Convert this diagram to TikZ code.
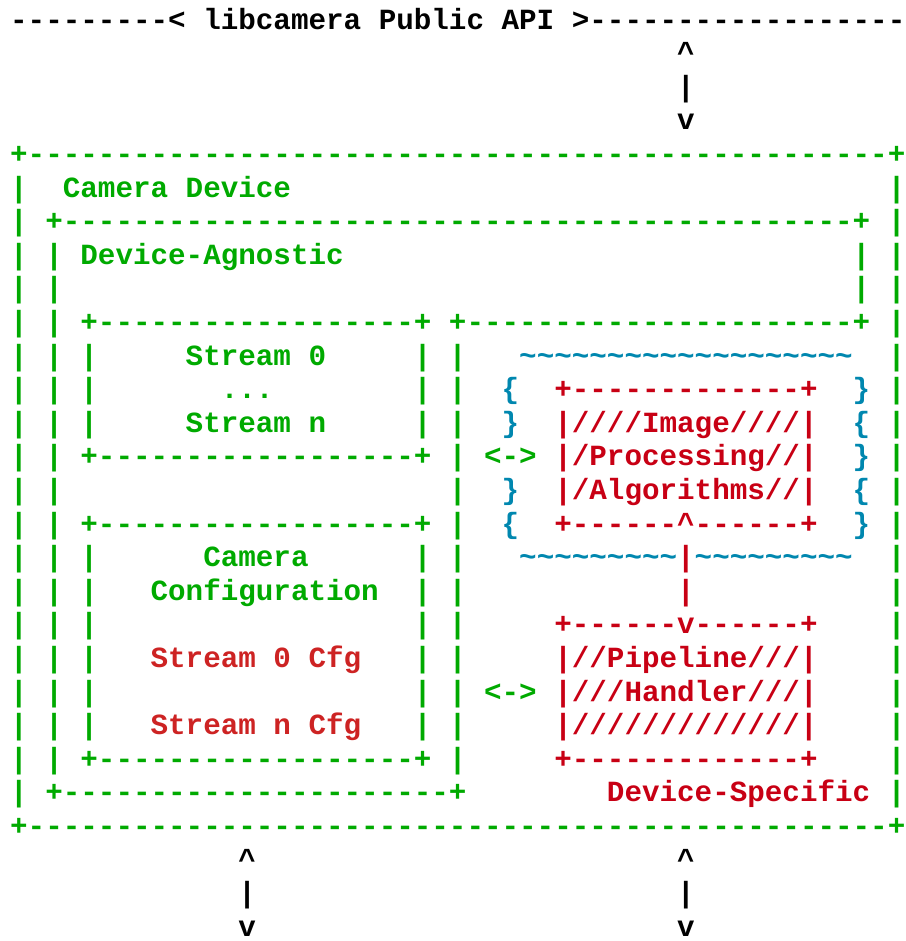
\documentclass[tikz,border=0pt]{standalone}
\usepackage{fontspec}
\setmonofont{Liberation Mono}
\definecolor{agreen}{RGB}{0,170,0}
\definecolor{ared}{RGB}{200,0,20}
\definecolor{acfg}{RGB}{205,35,35}
\definecolor{acyan}{RGB}{0,135,175}
\newcommand{\dashes}[1]{\foreach \q in {1,...,#1}{-}}
\newcommand{\tildes}[1]{\foreach \q in {1,...,#1}{\textasciitilde}}
\tikzset{
  asc/.style={anchor=base west, inner sep=0pt, outer sep=0pt,
    font=\ttfamily\bfseries\fontsize{29.25pt}{33.6pt}\selectfont},
  ktxt/.style={asc, text=black},
  gtxt/.style={asc, text=agreen},
  rtxt/.style={asc, text=ared},
  ftxt/.style={asc, text=acfg},
  ctxt/.style={asc, text=acyan}
}
\begin{document}
\begin{tikzpicture}[x=17.55pt,y=-33.6pt]
    \useasboundingbox (-0.581,-0.863) rectangle (50.99,27.14);
    % public API and arrows
    \node[ktxt] (api) at (0,0) {\dashes{9}< libcamera Public API >\dashes{18}};
    \node[ktxt] (apiup) at (38,1) {\textasciicircum};
    \node[ktxt] (apibar) at (38,2) {|};
    \node[ktxt] (apidn) at (38,3) {v};
    \foreach \c in {13,38} {
    \node[ktxt] (up\c) at (\c,25) {\textasciicircum};
    \node[ktxt] (bar\c) at (\c,26) {|};
    \node[ktxt] (dn\c) at (\c,27) {v};
    }
    % camera device
    \node[gtxt] (devtop) at (0,4) {+\dashes{49}+};
    \node[gtxt] (devbot) at (0,24) {+\dashes{49}+};
    \foreach \r in {5,...,23} {
    \node[gtxt] (devl\r) at (0,\r) {|};
    \node[gtxt] (devr\r) at (50,\r) {|};
    }
    \node[gtxt] (camdev) at (3,5) {Camera Device};
    % device-agnostic
    \node[gtxt] (agtop) at (2,6) {+\dashes{45}+};
    \node[gtxt] (agnostic) at (4,7) {Device-Agnostic};
    \foreach \r in {7,...,22} \node[gtxt] (agl\r) at (2,\r) {|};
    \foreach \r in {7,8} \node[gtxt] (agr\r) at (48,\r) {|};
    \node[gtxt] (agstep) at (25,9) {+\dashes{22}+};
    \foreach \r in {10,...,22} \node[gtxt] (agm\r) at (25,\r) {|};
    \node[gtxt] (agbot) at (2,23) {+\dashes{22}+};
    % streams and configuration
    \foreach \r in {9,13,15,22} \node[gtxt] (bx\r) at (4,\r) {+\dashes{18}+};
    \foreach \r in {10,11,12,16,17,18,19,20,21} {
    \node[gtxt] (bxl\r) at (4,\r) {|};
    \node[gtxt] (bxr\r) at (23,\r) {|};
    }
    \node[gtxt] (strzero) at (10,10) {Stream 0};
    \node[gtxt] (strdots) at (12,11) {...};
    \node[gtxt] (strn) at (10,12) {Stream n};
    \node[gtxt] (camcfg) at (11,16) {Camera};
    \node[gtxt] (config) at (8,17) {Configuration};
    \node[ftxt] (cfgzero) at (8,19) {Stream 0 Cfg};
    \node[ftxt] (cfgn) at (8,21) {Stream n Cfg};
    % device-specific
    \node[ctxt] (ipatop) at (29,10) {\tildes{19}};
    \node[ctxt] (ipabotl) at (29,16) {\tildes{9}};
    \node[ctxt] (ipabotr) at (39,16) {\tildes{9}};
    \foreach \r/\b in {11/\{,12/\},14/\},15/\{} \node[ctxt] (ipal\r) at (28,\r) {\b};
    \foreach \r/\b in {11/\},12/\{,13/\},14/\{,15/\}} \node[ctxt] (ipar\r) at (48,\r) {\b};
    \node[rtxt] (ipa1) at (31,11) {+\dashes{13}+};
    \node[rtxt] (ipa2) at (31,12) {|////Image////|};
    \node[rtxt] (ipa3) at (31,13) {|/Processing//|};
    \node[rtxt] (ipa4) at (31,14) {|/Algorithms//|};
    \node[rtxt] (ipa5) at (31,15) {+\dashes{6}\textasciicircum\dashes{6}+};
    \node[rtxt] (link1) at (38,16) {|};
    \node[rtxt] (link2) at (38,17) {|};
    \node[rtxt] (ph1) at (31,18) {+\dashes{6}v\dashes{6}+};
    \node[rtxt] (ph2) at (31,19) {|//Pipeline///|};
    \node[rtxt] (ph3) at (31,20) {|///Handler///|};
    \node[rtxt] (ph4) at (31,21) {|/////////////|};
    \node[rtxt] (ph5) at (31,22) {+\dashes{13}+};
    \node[gtxt] (ipalink) at (27,13) {<->};
    \node[gtxt] (phlink) at (27,20) {<->};
    \node[rtxt] (specific) at (34,23) {Device-Specific};
\end{tikzpicture}
\end{document}
